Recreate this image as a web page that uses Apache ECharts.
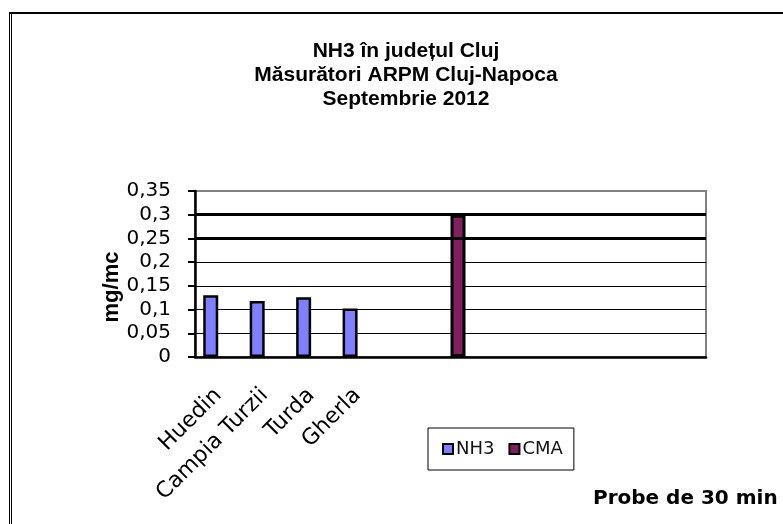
<!DOCTYPE html>
<html>
<head>
<meta charset="utf-8">
<script src="https://cdn.jsdelivr.net/npm/echarts@6/dist/echarts.min.js"></script>
<style>
  html, body { margin: 0; padding: 0; background: #fff; }
  #main { width: 783px; height: 524px; }
</style>
</head>
<body>
<div id="main"></div>
<script>
  // categorii (statii) si valori NH3, CMA
  const categories = ['Huedin', 'Campia Turzii', 'Turda', 'Gherla', '', '', '', '', '', '', ''];
  const nh3Values = [0.13, 0.118, 0.126, 0.102, null, null, null, null, null, null, null];
  const cmaValues = [null, null, null, null, null, 0.3, null, null, null, null, null];
  const yTicks = [0, 0.05, 0.1, 0.15, 0.2, 0.25, 0.3, 0.35];
  const thickLines = [0.25, 0.3];

  const chart = echarts.init(document.getElementById('main'));

  /**formatare cu virgula**/
  const fmt = (v) => String(+v.toFixed(2)).replace('.', ',');

  chart.setOption({
    animation: false,
    title: [
      {
        text: 'NH3 în județul Cluj\nMăsurători ARPM Cluj-Napoca\nSeptembrie 2012',
        left: 401,
        top: 34,
        textAlign: 'center',
        textStyle: {
          fontFamily: 'Liberation Sans',
          fontWeight: 'bold',
          fontSize: 21,
          lineHeight: 24,
          color: '#000'
        }
      },
      {
        text: 'Probe de 30 min',
        left: 588,
        top: 484,
        textStyle: {
          fontFamily: 'DejaVu Sans',
          fontWeight: 'bold',
          fontSize: 20,
          color: '#000'
        }
      }
    ],
    legend: {
      data: ['NH3', 'CMA'],
      left: 428,
      top: 428,
      orient: 'horizontal',
      icon: 'rect',
      itemWidth: 10,
      itemHeight: 10,
      itemGap: 14,
      padding: [12, 11, 12, 14],
      borderColor: '#000',
      borderWidth: 1,
      textStyle: {
        fontFamily: 'DejaVu Sans',
        fontSize: 18,
        color: '#111',
        padding: [0, 0, 0, -2]
      }
    },
    grid: {
      left: 195,
      right: 77,
      top: 191,
      bottom: 167,
      show: true,
      borderColor: '#808080',
      borderWidth: 2
    },
    xAxis: {
      type: 'category',
      data: categories,
      axisLine: { lineStyle: { color: '#000', width: 2.5 } },
      axisTick: { interval: 0, length: 8, lineStyle: { color: '#000', width: 2 } },
      axisLabel: {
        interval: 0,
        rotate: 45,
        margin: 35,
        fontFamily: 'DejaVu Sans',
        fontSize: 22,
        color: '#000'
      }
    },
    yAxis: {
      type: 'value',
      min: yTicks[0],
      max: yTicks[yTicks.length - 1],
      interval: 0.05,
      axisLine: { show: true, lineStyle: { color: '#000', width: 2.5 } },
      axisTick: { show: true, length: 7, lineStyle: { color: '#000', width: 2 } },
      axisLabel: {
        margin: 24,
        formatter: fmt,
        fontFamily: 'DejaVu Sans',
        fontSize: 20,
        color: '#000'
      },
      splitLine: {
        show: true,
        lineStyle: {
          color: ['#000', '#000', '#000', '#000', '#000', '#000', '#000', '#808080'],
          width: 1
        }
      }
    },
    series: [
      {
        name: 'NH3',
        type: 'bar',
        data: nh3Values,
        barWidth: 15,
        barGap: '0%',
        itemStyle: { color: '#8080ff', borderColor: '#000', borderWidth: 2.5 },
        markLine: {
          silent: true,
          symbol: 'none',
          label: { show: false },
          lineStyle: { color: '#000', width: 3, type: 'solid' },
          data: thickLines.map((v) => ({ yAxis: v }))
        }
      },
      {
        name: 'CMA',
        type: 'bar',
        data: cmaValues,
        barWidth: 15,
        barGap: '0%',
        itemStyle: { color: '#802060', borderColor: '#000', borderWidth: 3 }
      }
    ],
    graphic: [
      // titlul axei Y
      {
        type: 'text',
        x: 112,
        y: 287,
        rotation: Math.PI / 2,
        style: {
          text: 'mg/mc',
          fontFamily: 'Liberation Sans',
          fontWeight: 'bold',
          fontSize: 22,
          fill: '#000',
          align: 'center',
          verticalAlign: 'middle'
        }
      },
      // chenarul imaginii
      { type: 'line', shape: { x1: 9.5, y1: 12, x2: 9.5, y2: 524 }, style: { stroke: '#000', lineWidth: 1 } },
      { type: 'line', shape: { x1: 11.5, y1: 14, x2: 11.5, y2: 524 }, style: { stroke: '#000', lineWidth: 1 } },
      { type: 'line', shape: { x1: 9, y1: 13, x2: 783, y2: 13 }, style: { stroke: '#000', lineWidth: 2 } }
    ]
  });
</script>
</body>
</html>
